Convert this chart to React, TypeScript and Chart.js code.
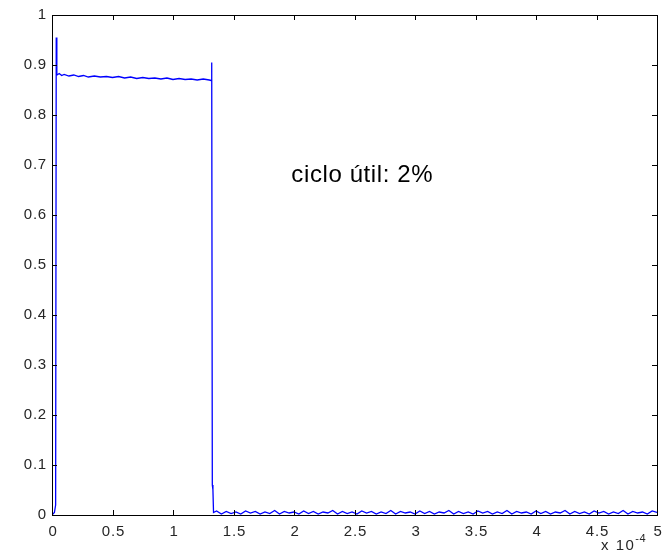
import React, { useEffect, useRef } from "react";
import { Chart, registerables } from "chart.js";

Chart.register(...registerables);

// x values in units of 1e-4 (s)
const highX = [0, 0.02, 0.03, 0.035, 0.04, 0.06, 0.08, 0.1, 0.14, 0.18, 0.22, 0.26, 0.3, 0.35, 0.4, 0.45, 0.5, 0.55, 0.6, 0.65, 0.7, 0.75, 0.8, 0.85, 0.9, 0.95, 1.0, 1.05, 1.1, 1.15, 1.2, 1.25, 1.3, 1.315, 1.32, 1.325, 1.33, 1.335];
const highY = [0, 0.005, 0.02, 0.955, 0.88, 0.883, 0.879, 0.881, 0.878, 0.88, 0.877, 0.879, 0.876, 0.878, 0.876, 0.877, 0.875, 0.877, 0.874, 0.876, 0.873, 0.875, 0.873, 0.874, 0.872, 0.874, 0.871, 0.873, 0.871, 0.872, 0.87, 0.872, 0.87, 0.869, 0.905, 0.06, 0.05, 0.005];
const lowX = [1.36, 1.4, 1.44, 1.48, 1.52, 1.56, 1.6, 1.64, 1.68, 1.72, 1.76, 1.8, 1.84, 1.88, 1.92, 1.96, 2, 2.04, 2.08, 2.12, 2.16, 2.2, 2.24, 2.28, 2.32, 2.36, 2.4, 2.44, 2.48, 2.52, 2.56, 2.6, 2.64, 2.68, 2.72, 2.76, 2.8, 2.84, 2.88, 2.92, 2.96, 3, 3.04, 3.08, 3.12, 3.16, 3.2, 3.24, 3.28, 3.32, 3.36, 3.4, 3.44, 3.48, 3.52, 3.56, 3.6, 3.64, 3.68, 3.72, 3.76, 3.8, 3.84, 3.88, 3.92, 3.96, 4, 4.04, 4.08, 4.12, 4.16, 4.2, 4.24, 4.28, 4.32, 4.36, 4.4, 4.44, 4.48, 4.52, 4.56, 4.6, 4.64, 4.68, 4.72, 4.76, 4.8, 4.84, 4.88, 4.92, 4.96, 5];
const lowY = [
  0.008, 0.002, 0.007, 0.003, 0.006, 0.002, 0.008, 0.004, 0.007, 0.002,
  0.006, 0.003, 0.009, 0.002, 0.007, 0.004, 0.006, 0.002, 0.008, 0.003,
  0.007, 0.002, 0.006, 0.004, 0.009, 0.002, 0.007, 0.003, 0.006, 0.002,
  0.008, 0.004, 0.007, 0.002, 0.006, 0.003, 0.009, 0.002, 0.007, 0.004,
  0.006, 0.002, 0.008, 0.003, 0.007, 0.002, 0.006, 0.004, 0.009, 0.002,
  0.007, 0.003, 0.006, 0.002, 0.008, 0.004, 0.007, 0.002, 0.006, 0.003,
  0.009, 0.002, 0.007, 0.004, 0.006, 0.002, 0.008, 0.003, 0.007, 0.002,
  0.006, 0.004, 0.009, 0.002, 0.007, 0.003, 0.006, 0.002, 0.008, 0.004,
  0.007, 0.002, 0.006, 0.003, 0.009, 0.002, 0.007, 0.004, 0.006, 0.002,
  0.008, 0.005,
];

const annotationText = "ciclo útil: 2%";
const annotationX = 1.97;
const annotationY = 0.68;
const exponentBase = "x 10";
const exponentPower = "-4";

const FONT = "'Liberation Sans', Arial, sans-serif";
const fmt = (v: number) => String(parseFloat(v.toFixed(2)));

const boxPlugin = {
  id: "matlabBox",
  afterDraw(chart: any) {
    const { ctx, chartArea: a, scales } = chart;
    const xs = scales.x;
    const ys = scales.y;
    ctx.save();
    ctx.strokeStyle = "#000";
    ctx.lineWidth = 1;
    ctx.strokeRect(Math.round(a.left) + 0.5, Math.round(a.top) + 0.5, Math.round(a.right - a.left), Math.round(a.bottom - a.top));
    const tl = 5;
    ctx.beginPath();
    xs.ticks.forEach((t: any) => {
      const px = Math.round(xs.getPixelForValue(t.value)) + 0.5;
      ctx.moveTo(px, a.bottom);
      ctx.lineTo(px, a.bottom - tl);
      ctx.moveTo(px, a.top);
      ctx.lineTo(px, a.top + tl);
    });
    ys.ticks.forEach((t: any) => {
      const py = Math.round(ys.getPixelForValue(t.value)) + 0.5;
      ctx.moveTo(a.left, py);
      ctx.lineTo(a.left + tl, py);
      ctx.moveTo(a.right, py);
      ctx.lineTo(a.right - tl, py);
    });
    ctx.stroke();

    // tick labels
    ctx.fillStyle = "#262626";
    ctx.font = `15px ${FONT}`;
    (ctx as any).letterSpacing = "0.8px";
    ctx.textBaseline = "middle";
    ctx.textAlign = "right";
    ys.ticks.forEach((t: any) => {
      ctx.fillText(fmt(t.value), a.left - 5, ys.getPixelForValue(t.value));
    });
    ctx.textAlign = "center";
    xs.ticks.forEach((t: any) => {
      ctx.fillText(fmt(t.value), xs.getPixelForValue(t.value) + 1, a.bottom + 17);
    });

    // annotation
    ctx.fillStyle = "#000";
    ctx.font = `24px ${FONT}`;
    (ctx as any).letterSpacing = "0.6px";
    ctx.textAlign = "left";
    ctx.textBaseline = "middle";
    ctx.fillText(annotationText, xs.getPixelForValue(annotationX) + 1, ys.getPixelForValue(annotationY));

    // exponent label
    ctx.fillStyle = "#262626";
    ctx.font = `15px ${FONT}`;
    (ctx as any).letterSpacing = "1.5px";
    ctx.textAlign = "left";
    ctx.textBaseline = "alphabetic";
    const baseX = a.right - 56;
    const baseY = a.bottom + 35;
    ctx.fillText(exponentBase, baseX, baseY);
    const w = ctx.measureText(exponentBase).width;
    ctx.font = `11px ${FONT}`;
    (ctx as any).letterSpacing = "0.5px";
    ctx.fillText(exponentPower, baseX + w, baseY - 8);
    ctx.restore();
  },
};

export default function App() {
  const ref = useRef<HTMLCanvasElement | null>(null);
  useEffect(() => {
    if (!ref.current) return;
    const data = [
      ...highX.map((x, i) => ({ x, y: highY[i] })),
      ...lowX.map((x, i) => ({ x, y: lowY[i] })),
    ];
    const chart = new Chart(ref.current, {
      type: "line",
      data: {
        datasets: [
          {
            data,
            borderColor: "#0000ff",
            borderWidth: 1.3,
            pointRadius: 0,
            fill: false,
            tension: 0,
          },
        ],
      },
      options: {
        animation: false,
        responsive: false,
        events: [],
        layout: { padding: { top: 15, right: 15, left: 0, bottom: 0 } },
        plugins: { legend: { display: false }, tooltip: { enabled: false } },
        scales: {
          x: {
            type: "linear",
            min: 0,
            max: 5,
            grid: { display: false, drawTicks: false },
            border: { display: false },
            ticks: { stepSize: 0.5, display: false },
            afterFit(scale: any) {
              scale.height = 36;
            },
          },
          y: {
            type: "linear",
            min: 0,
            max: 1,
            grid: { display: false, drawTicks: false },
            border: { display: false },
            ticks: { stepSize: 0.1, display: false },
            afterFit(scale: any) {
              scale.width = 52;
            },
          },
        },
      },
      plugins: [boxPlugin],
    });
    return () => chart.destroy();
  }, []);
  return (
    <div style={{ position: "fixed", left: 0, top: 0, width: 672, height: 551, background: "#fff" }}>
      <canvas ref={ref} width={672} height={551} style={{ width: 672, height: 551, display: "block" }} />
    </div>
  );
}
